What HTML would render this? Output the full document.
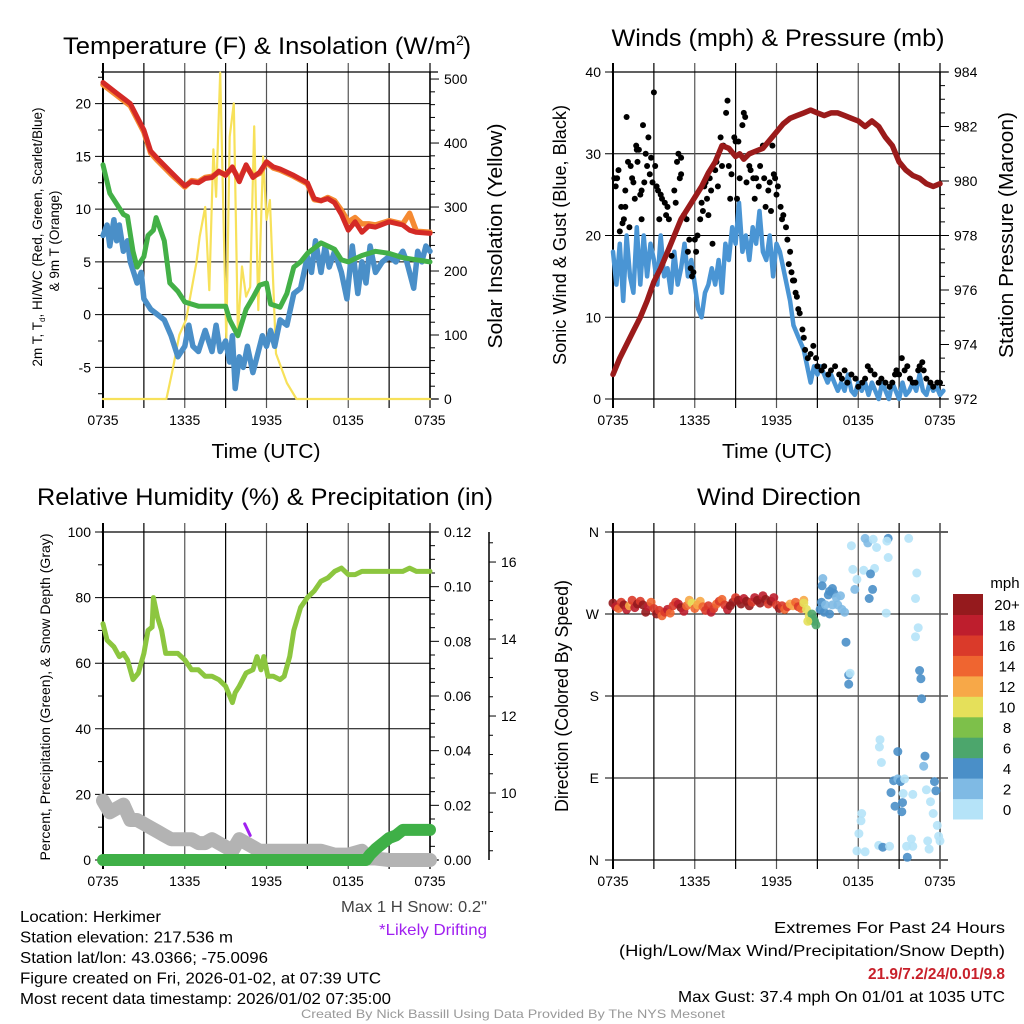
<!DOCTYPE html>
<html><head><meta charset="utf-8"><style>
html,body{margin:0;padding:0;background:#fff;}
svg{display:block;font-family:"Liberation Sans",Arial,sans-serif;}
</style></head><body>
<svg id="chart" width="1024" height="1024" viewBox="0 0 1024 1024"></svg>
<script>
// ---------- DATA ----------
const tempT = [0,1,2,3,3.5,4,5,6,6.5,7,7.5,8,8.5,9,9.5,10,10.5,11,11.5,12,12.5,13,14,15,15.5,16,16.5,17,17.5,18,18.5,19,19.5,20,21,22,22.5,23,24];
const tempRed = [22,21,20,17.5,15.5,14.8,13.5,12.2,12.6,12.5,12.9,13,13.6,13.2,14,12.6,14.2,13,13.5,14.5,14,13.8,13.2,12.5,11,10.8,11,10.6,9.5,8,8.8,7.8,8.4,8.3,8.8,8.5,8,7.8,7.7];
const tempOrange = [21.8,20.8,19.8,17.3,15.3,14.6,13.3,12.1,12.7,12.6,13,13.1,13.5,13.3,13.9,12.8,14.1,13.1,13.4,14.4,13.9,13.7,13.1,12.4,10.9,10.8,11.1,10.8,9.9,8.8,9.2,8.6,8.6,8.5,8.9,8.6,9.6,7.9,7.8];
const dewT = [0,0.5,1,1.5,1.8,2.2,2.5,3,3.3,3.7,3.9,4.5,4.9,5.5,6,7,8,9,9.3,9.9,10.5,11,11.5,12,12.3,13,13.5,14,14.5,15,16,16.5,17,17.5,18,19,20,21,22,23,24];
const dewV = [14.2,11.5,10.5,9.5,9.3,6,4.5,5.5,7.5,8,9.2,7,3,2.2,1.2,0.8,0.8,0.8,-0.5,-2,0.5,1.6,2.8,3,1,0.7,2,4.5,5,5.8,6.8,6.5,6.2,5.2,5,5.6,6,5.8,5.4,5.2,5];
const wcT = [0,0.3,0.5,0.8,1,1.2,1.5,1.8,2,2.5,2.8,3,3.5,4,4.5,5,5.5,6,6.3,6.6,7,7.5,8,8.3,8.6,9,9.3,9.5,9.7,10,10.3,10.6,11,11.3,11.7,12,12.3,12.6,13,13.5,14,14.5,15,15.3,15.6,16,16.3,16.6,17,17.5,17.9,18.3,18.7,19,19.3,19.6,20,20.5,21,21.5,22,22.3,22.8,23.1,23.4,23.7,24];
const wcV = [7.5,8.5,6.5,9,7,8.5,6,7,5,3,4,1.5,0.5,0,-0.5,-2,-4,-3,-1,-3,-3.5,-1.5,-3.5,-1,-3.5,-2.5,-4.5,-2,-7,-4,-5,-3,-5.5,-4,-2,-3,-1.5,-3,-0.5,-1,2,2.5,5.5,4,7,4,6.5,4.5,6,4,1.5,6.5,2,5,3,6.5,4,5,5.5,5,6,5,2.5,6,5,6.5,6];
const solT = [0,4.65,5.15,5.6,6.1,6.85,7.1,7.5,7.8,8.1,8.3,8.6,9.05,9.3,9.6,9.9,10.2,10.5,10.8,11.1,11.4,11.75,12,12.25,12.7,13.5,14.2,24];
const solV = [0,0,50,100,124,212,254,300,170,390,316,510,92,410,462,103,207,160,175,426,139,379,280,311,71,25,0,0];
const tempLeftTicks = [-5,0,5,10,15,20];
const solTicks = [0,100,200,300,400,500];
const timeLabels = ["0735","1335","1935","0135","0735"];

const windV = [18,14,19,12,20,15,13,21,14,20,15,19,17,14,20,15,16,13,18,14,16,19,15,17,14,
11,10,13,14,16,14,17,13,19,17,21,19,24,18,20,17,21,19,23,18,17,20,15,19,18,16,14,12,
9,8,7,6,4,2,4,3,4,3,2,3,2,1,2,1,3,1,0.5,2,1,2,0.5,2,1,0,2,1,0,2,1,0,2,0.5,1,2,1,3,1,0.5,2,1,1.5,0.5,1];
const gustT = [0.1,0.3,0.2,0.4,0.5,0.6,0.7,0.8,0.9,0.9,1,1.1,1.2,1.3,1.4,1.5,1.6,1.7,1.75,1.8,1.9,2,2.1,2.1,2.2,2.3,2.4,2.5,2.6,2.7,2.8,2.9,3,3.1,3.2,3.3,3.4,3.5,3.6,3.8,3.9,4,4.1,4.3,4.5,4.6,4.7,4.8,4.9,5,5,5.2,5.4,5.5,5.6,5.7,5.8,5.9,6,6.1,6.2,6.4,6.5,6.6,6.7,6.8,6.9,7,7.1,7.2,7.3,7.5,7.6,7.7,7.9,8,8.1,8.3,8.4,8.5,8.6,8.7,8.9,9,9.1,9.2,9.3,9.5,9.6,9.7,9.8,10,10.1,10.3,10.4,10.5,10.7,10.8,11,11.1,11.2,11.4,11.5,11.6,11.7,11.8,11.9,12,12.1,12.3,12.4,12.5,12.7,12.8,12.9,13,13.1,13.2,13.3,13.4,13.5,13.6,13.7,13.9,14,14.1,14.3,14.5,14.7,14.9,15,15.3,15.5,15.8,16,16.3,16.6,16.8,17,17.2,17.5,17.8,18,18.3,18.5,18.7,18.9,19.2,19.5,19.7,20,20.3,20.5,20.7,20.8,21,21.2,21.4,21.6,21.8,22,22.2,22.4,22.5,22.7,22.8,23,23.3,23.5,23.8,24];
const gustV = [27,27,26,28,20.5,23.5,21.5,22,25.5,23.5,34.5,29,21,28.5,27,26.5,24.5,31,30.5,29,30.5,25,25.5,22,33.5,26.5,30,28.5,32,27.5,29.5,26.5,37.5,28.5,26,25.5,22,25,24.5,24,22.5,23.5,22,17.5,25.5,24,29,30,27,27.5,29.5,22.5,22,18,19.5,16,15,15.5,19.5,18,20,22,24,23,26,26.5,24.5,22.5,27,25.5,19,28,29,26,32,28.5,31,35,36.5,28.5,24.5,27.5,32,31.5,24.5,31.5,27,33.5,35,34.5,26.5,28.5,28,27,24.5,27,26,28.5,31,27,23.5,25.5,26.5,23,31,27.5,27,25,26,23.5,22,22.5,21,19.5,16.5,18,15.5,14.5,14.5,13,12.5,11,10.5,8.5,7.5,6,5,5.5,6.5,5,4,3.5,4,3,3.5,4,3,2.5,3.5,2,3,2.5,1.5,2,2.5,4,3.5,3,2,2.5,2,1.5,2,3,3.5,3,5,3.5,4,2.5,2,2,3.5,4,4.5,3.5,2.5,2,1.5,2,2];
const presT = [0,0.5,1,1.5,2,2.5,3,3.5,4,4.5,5,5.5,6,6.5,7,7.5,8,8.5,9,9.3,9.6,10,10.5,11,11.5,12,12.5,13,13.5,14,14.5,15,15.5,16,16.5,17,17.5,18,18.5,19,19.5,20,20.5,21,21.5,22,22.5,23,23.5,24];
const presV = [972.9,973.5,974,974.5,975,975.6,976.3,976.8,977.4,978,978.6,979,979.4,979.8,980.3,980.7,981.3,981.2,980.9,981,980.8,981,981.1,981.2,981.5,981.8,982.1,982.3,982.4,982.5,982.6,982.5,982.4,982.5,982.5,982.4,982.3,982.2,982,982.2,982,981.6,981.3,980.7,980.4,980.2,980.1,979.9,979.8,979.9];
const windTicks = [0,10,20,30,40];
const presTicks = [972,974,976,978,980,982,984];

const rhT = [0,0.3,0.8,1.2,1.5,1.8,2.2,2.6,3,3.3,3.6,3.7,4,4.3,4.6,5,5.5,6,6.5,7,7.5,8,8.5,9,9.5,9.7,10,10.5,11,11.3,11.6,11.8,12.1,12.5,13,13.3,13.7,14,14.5,15,15.5,16,16.5,17,17.5,18,18.5,19,20,21,22,22.5,23,24];
const rhV = [72,67,65,62,63,61,55,57,63,70,71,80,74,70,63,63,63,61,58,58,56,56,55,53,48,51,53,57,58,62,58,62,56,56,55,56,62,70,77,80,82,85,86,88,89,87,87,88,88,88,88,89,88,88];
const snowT = [0,0.5,1,1.5,2,2.5,3,3.5,4,4.5,5,5.5,6,6.5,7,7.5,8,8.5,9,9.5,10,10.5,11,11.5,12,13,14,15,16,17,18,19,19.5,20,21,22,24];
const snowV = [9.8,9.5,9.6,9.7,9.3,9.3,9.2,9.1,9.0,8.9,8.8,8.8,8.8,8.8,8.7,8.7,8.8,8.7,8.6,8.5,8.8,8.7,8.6,8.5,8.5,8.5,8.5,8.5,8.5,8.4,8.4,8.5,8.3,8.3,8.26,8.26,8.26];
const driftT = [10.4,10.8];
const driftV = [9.2,8.9];
const precT = [0,19.3,19.6,20,20.5,21,21.5,22,24];
const precV = [0,0,0.002,0.004,0.006,0.008,0.009,0.011,0.011];
const rhTicks = [0,20,40,60,80,100];
const precTicks = [0,0.02,0.04,0.06,0.08,0.10,0.12];
const precLabels = ["0.00","0.02","0.04","0.06","0.08","0.10","0.12"];
const snowTicks = [10,12,14,16];

const wdMainD = [282,278,276,283,280,275,279,285,277,281,284,280,272,278,283,276,270,274,268,272,275,271,279,283,281,277,273,279,285,282,276,280,284,278,274,279,272,276,281,284,286,280,275,279,283,288,285,281,287,284,279,283,288,285,282,290,286,281,284,288,280,276,279,275,278,281,279,283,278,276,285];
const wdMainS = [20,18,14,16,20,18,12,16,18,20,16,20,22,18,14,16,20,16,14,16,18,14,16,16,18,20,18,14,12,10,14,12,12,14,16,16,18,16,14,16,14,16,18,20,22,16,20,22,18,20,22,16,18,20,22,18,20,16,20,18,16,20,16,14,16,12,12,14,16,14,12];
const wdT = [14,14.2,14.4,14.5,14.6,14.8,14.9,14.7,14.3,15.2,15.3,15.5,15.6,15.8,15.9,16.1,16.2,16.4,16.5,16.7,16.8,17,15.9,16.1,15.4,15.35,17.5,18.5,18.7,19.1,19.35,20.2,20.1,21.7,17.6,18.4,19.2,18.9,20.2,22.3,17.9,17.75,19.05,18.8,22.2,20.05,17.1,17.3,17.4,17.3,22.2,22.4,22.5,22.6,22.65,19.6,19.55,19.7,20.9,22.9,22.8,20.6,20.9,21.1,21.4,23.6,23.7,23,20.4,21.3,22,23.3,20.7,21.25,21.2,18.25,18.2,23.5,23.8,18.05,23.9,24,17.9,18.5,19.5,19.8,20.3,21.55,21.9,22,21.6,23.1,23.2];
const wdD = [282,275,268,263,270,262,258,265,262,275,283,272,280,291,295,298,293,288,280,290,275,272,270,280,309,301,345,353,348,352,343,353,350,353,319,318,320,314,332,315,308,297,297,287,287,271,239,203,205,193,245,255,208,199,177,132,124,107,119,114,103,87,89,86,89,86,76,77,74,73,72,64,59,63,53,51,43,51,38,29,26,21,10,9,16,14,15,15,23,15,3,21,12];
const wdS = [10,10,10,8,6,6,6,6,10,4,4,4,2,4,4,4,4,2,2,2,2,2,4,2,2,4,0,3,2,1,0,4,0,0,0,0,0,4,0,0,0,3,4,4,0,0,4,4,0,4,0,0,4,4,4,0,0,0,4,4,2,4,2,4,0,4,4,0,4,0,0,0,4,4,4,0,0,0,0,0,0,0,0,0,0,4,0,0,0,0,4,0,0];
const dirLabels = ["N","E","S","W","N"];
const dirTicks = [0,90,180,270,360];
const cbLabels = ["0","2","4","6","8","10","12","14","16","18","20+"];
const cbColors = ["#b5e3f8","#7fbae4","#4a8fc8","#4ca66c","#7dc04a","#e5e05a","#f7a848","#ef6530","#da3a2a","#be1e2d","#951a1d"];

// ---------- HELPERS ----------
const NS = "http://www.w3.org/2000/svg";
const svg = document.getElementById("chart");
function mk(tag, attrs, parent, name, inter) {
  const e = document.createElementNS(NS, tag);
  for (const k in attrs) e.setAttribute(k, attrs[k]);
  
  
  (parent || svg).appendChild(e);
  return e;
}
function txt(s, x, y, size, anchor, parent, name, extra) {
  const a = Object.assign({x: x, y: y, 'font-size': size, 'text-anchor': anchor || 'middle', fill: '#000'}, extra || {});
  const e = mk('text', a, parent, name, false);
  e.textContent = s;
  return e;
}
function fitTxt(s, x, y, size, anchor, len, parent, name, extra) {
  const a = Object.assign({textLength: len, lengthAdjust: 'spacingAndGlyphs'}, extra || {});
  return txt(s, x, y, size, anchor, parent, name, a);
}
function lin(x1, y1, x2, y2, stroke, w, parent, name) {
  return mk('line', {x1: x1, y1: y1, x2: x2, y2: y2, stroke: stroke, 'stroke-width': w}, parent, name, false);
}
function path(xs, ys, fx, fy, stroke, w, parent, name, cap) {
  let d = '';
  for (let i = 0; i < xs.length; i++) d += (i ? 'L' : 'M') + fx(xs[i]).toFixed(1) + ' ' + fy(ys[i]).toFixed(1);
  return mk('path', {d: d, fill: 'none', stroke: stroke, 'stroke-width': w, 'stroke-linejoin': 'round', 'stroke-linecap': cap || 'round'}, parent, name, false);
}
function scale(d0, d1, r0, r1) { return v => r0 + (v - d0) * (r1 - r0) / (d1 - d0); }

function frame(g, L, R, T, B, prefix) {
  for (let i = 0; i <= 8; i++) {
    const x = L + i * (R - L) / 8;
    lin(x, T - 9, x, B + 9, i % 2 === 0 && i > 0 && i < 8 ? '#555' : '#000', i === 0 ? 2 : 1.2, g, prefix + '-x-grid');
  }
  lin(L - 2, T, R + 8, T, '#000', 1.2, g, prefix + '-top-border');
  lin(L, B, R + 8, B, '#000', 1.2, g, prefix + '-bottom-border');
  const tl = [0, 2, 4, 6, 8];
  for (let i = 0; i < 5; i++) txt(timeLabels[i], L + tl[i] * (R - L) / 8, B + 26, 14, 'middle', g, prefix + '-x-tick-label');
}

// ---------- PANEL 1: Temperature ----------
(function () {
  const g = mk('g', {}, svg, 'temperature-panel', false);
  const L = 103, R = 430, T = 72, B = 399;
  const tx = scale(0, 24, L, R), ty = scale(-8, 23, B, T), sy = scale(0, 511, B, T);
  for (const v of tempLeftTicks) { lin(L - 8, ty(v), R, ty(v), '#000', 1, g, 'temp-y-grid'); txt(String(v), L - 12, ty(v) + 5, 14, 'end', g, 'temp-y-tick-label'); }
  for (let v = -7.5; v <= 22.5; v += 5) lin(L - 5, ty(v), L, ty(v), '#000', 1, g, 'temp-y-minor-tick');
  for (const v of solTicks) { lin(R, sy(v), R + 9, sy(v), '#000', 1, g, 'solar-y-tick'); txt(String(v), R + 14, sy(v) + 5, 14, 'start', g, 'solar-y-tick-label'); }
  for (let v = 20; v < 511; v += 20) if (v % 100) lin(R, sy(v), R + 5, sy(v), '#000', 1, g, 'solar-y-minor-tick');
  frame(g, L, R, T, B, 'temp');
  lin(R, T, R, B, '#000', 1.5, g, 'temp-right-axis');
  path(solT, solV, tx, sy, '#f7e15a', 2.2, g, 'solar-insolation-line');
  path(wcT, wcV, tx, ty, '#4a8fc8', 5.5, g, 'wind-chill-line');
  path(dewT, dewV, tx, ty, '#43b047', 5, g, 'dewpoint-line');
  path(tempT, tempOrange, tx, ty, '#f58a32', 5.5, g, 'temp-9m-line');
  path(tempT, tempRed, tx, ty, '#d42a26', 5, g, 'temp-2m-line');
  const t = mk('text', {x: 63, y: 54, 'font-size': 24, 'text-anchor': 'start', textLength: 393, lengthAdjust: 'spacingAndGlyphs'}, g, 'temp-panel-title', false);
  t.textContent = 'Temperature (F) & Insolation (W/m';
  const t2 = mk('text', {x: 456, y: 45, 'font-size': 14}, g, 'temp-title-superscript', false);
  t2.textContent = '2';
  const t3 = mk('text', {x: 463, y: 54, 'font-size': 24}, g, 'temp-title-paren', false);
  t3.textContent = ')';
  fitTxt('Time (UTC)', 266, 458, 20, 'middle', 109, g, 'temp-x-axis-title');
  const yt = mk('text', {x: 0, y: 0, 'font-size': 13.5, 'text-anchor': 'middle', transform: 'translate(42,237) rotate(-90)'}, g, 'temp-y-axis-title', false);
  yt.innerHTML = '2m T, T<tspan font-size="8" dy="3">d</tspan><tspan dy="-3">, HI/WC (Red, Green, Scarlet/Blue)</tspan>';
  txt('& 9m T (Orange)', 0, 0, 13.5, 'middle', g, 'temp-y-axis-title-line2', {transform: 'translate(59,241) rotate(-90)'});
  fitTxt('Solar Insolation (Yellow)', 0, 0, 20, 'middle', 225, g, 'solar-y-axis-title', {transform: 'translate(502,236) rotate(-90)'});
})();

// ---------- PANEL 2: Winds ----------
(function () {
  const g = mk('g', {}, svg, 'winds-panel', false);
  const L = 613, R = 940, T = 72, B = 399;
  const tx = scale(0, 24, L, R), wy = scale(0, 40, B, T), py = scale(972, 984, B, T);
  for (const v of windTicks) { lin(L - 8, wy(v), R, wy(v), '#000', 1, g, 'wind-y-grid'); txt(String(v), L - 12, wy(v) + 5, 14, 'end', g, 'wind-y-tick-label'); }
  for (const v of presTicks) { lin(R, py(v), R + 9, py(v), '#000', 1, g, 'pressure-y-tick'); txt(String(v), R + 14, py(v) + 5, 14, 'start', g, 'pressure-y-tick-label'); }
  for (let v = 972.5; v < 984; v += 0.5) if (v % 2) lin(R, py(v), R + 5, py(v), '#000', 1, g, 'pressure-y-minor-tick');
  frame(g, L, R, T, B, 'wind');
  lin(R, T, R, B, '#000', 1.5, g, 'wind-right-axis');
  const wt = windV.map((v, i) => i * 0.25);
  path(wt, windV, tx, wy, '#4a95d4', 4.5, g, 'sustained-wind-line');
  for (let i = 0; i < gustT.length; i++) {
    mk('circle', {cx: tx(gustT[i]).toFixed(1), cy: wy(gustV[i]).toFixed(1), r: 3, fill: '#000'}, g, 'gust-point', false);
  }
  path(presT, presV, tx, py, '#9b1b1b', 5.5, g, 'station-pressure-line');
  fitTxt('Winds (mph) & Pressure (mb)', 778, 46, 24, 'middle', 333, g, 'winds-panel-title');
  fitTxt('Time (UTC)', 777, 458, 20, 'middle', 110, g, 'wind-x-axis-title');
  fitTxt('Sonic Wind & Gust (Blue, Black)', 0, 0, 18, 'middle', 260, g, 'wind-y-axis-title', {transform: 'translate(566,235) rotate(-90)'});
  fitTxt('Station Pressure (Maroon)', 0, 0, 20, 'middle', 246, g, 'pressure-y-axis-title', {transform: 'translate(1013,235) rotate(-90)'});
})();

// ---------- PANEL 3: RH ----------
(function () {
  const g = mk('g', {}, svg, 'humidity-panel', false);
  const L = 103, R = 430, T = 532, B = 860;
  const tx = scale(0, 24, L, R), ry = scale(0, 100, B, T), py = scale(0, 0.12, B, T), sy = scale(8.26, 16.78, B, T);
  for (const v of rhTicks) { lin(L - 8, ry(v), R, ry(v), '#000', 1, g, 'rh-y-grid'); txt(String(v), L - 12, ry(v) + 5, 14, 'end', g, 'rh-y-tick-label'); }
  for (let v = 10; v < 100; v += 20) lin(L - 5, ry(v), L, ry(v), '#000', 1, g, 'rh-y-minor-tick');
  precTicks.forEach((v, i) => { lin(R, py(v), R + 9, py(v), '#000', 1, g, 'precip-y-tick'); txt(precLabels[i], R + 14, py(v) + 5, 14, 'start', g, 'precip-y-tick-label'); });
  for (let v = 0.005; v < 0.12; v += 0.005) if (Math.abs(v / 0.02 - Math.round(v / 0.02)) > 0.01) lin(R, py(v), R + 5, py(v), '#000', 1, g, 'precip-y-minor-tick');
  lin(489, T, 489, B, '#000', 1.5, g, 'snow-depth-axis');
  for (const v of snowTicks) { lin(489, sy(v), 496, sy(v), '#000', 1, g, 'snow-y-tick'); txt(String(v), 501, sy(v) + 5, 14, 'start', g, 'snow-y-tick-label'); }
  for (let v = 8.5; v < 16.8; v += 0.5) if (v % 2) lin(489, sy(v), 493, sy(v), '#000', 1, g, 'snow-y-minor-tick');
  frame(g, L, R, T, B, 'rh');
  lin(R, T, R, B, '#000', 1.5, g, 'rh-right-axis');
  path(snowT, snowV, tx, sy, '#b3b3b3', 14, g, 'snow-depth-line');
  path(driftT, driftV, tx, sy, '#a020f0', 3, g, 'drifting-snow-marker');
  path(precT, precV, tx, py, '#3fb047', 12, g, 'precipitation-line');
  path(rhT, rhV, tx, ry, '#8cc63f', 5, g, 'relative-humidity-line');
  fitTxt('Relative Humidity (%) & Precipitation (in)', 265, 505, 24, 'middle', 456, g, 'rh-panel-title');
  fitTxt('Percent, Precipitation (Green), & Snow Depth (Gray)', 0, 0, 14, 'middle', 327, g, 'rh-y-axis-title', {transform: 'translate(50,697) rotate(-90)'});
})();

// ---------- PANEL 4: Wind direction ----------
(function () {
  const g = mk('g', {}, svg, 'wind-direction-panel', false);
  const L = 613, R = 940, T = 532, B = 860;
  const tx = scale(0, 24, L, R), dy = scale(0, 360, B, T);
  dirTicks.forEach((v, i) => { lin(L - 8, dy(v), R + 8, dy(v), '#000', 1, g, 'direction-y-grid'); txt(dirLabels[i], L - 14, dy(v) + 5, 14, 'end', g, 'direction-y-tick-label'); });
  frame(g, L, R, T, B, 'dir');
  lin(R, T - 9, R, B + 9, '#555', 1.5, g, 'dir-right-border');
  function col(s) { return cbColors[Math.min(10, Math.floor(s / 2))]; }
  wdMainD.forEach((d, i) => {
    mk('circle', {cx: tx(i * 0.2).toFixed(1), cy: dy(d).toFixed(1), r: 4.5, fill: col(wdMainS[i]), 'fill-opacity': 0.9}, g, 'direction-point', false);
  });
  for (let i = 0; i < wdT.length; i++) {
    mk('circle', {cx: tx(wdT[i]).toFixed(1), cy: dy(wdD[i]).toFixed(1), r: 4.5, fill: col(wdS[i]), 'fill-opacity': 0.9}, g, 'direction-point', false);
  }
  fitTxt('Wind Direction', 779, 505, 24, 'middle', 164, g, 'wind-direction-title');
  fitTxt('Direction (Colored By Speed)', 0, 0, 18, 'middle', 232, g, 'direction-y-axis-title', {transform: 'translate(568,696) rotate(-90)'});
  const cb = mk('g', {}, g, 'speed-colorbar', false);
  const h = (819 - 594) / 11;
  for (let i = 0; i < 11; i++) {
    const y = 819 - (i + 1) * h;
    mk('rect', {x: 953, y: y.toFixed(1), width: 30, height: (h + 0.5).toFixed(1), fill: cbColors[i]}, cb, 'colorbar-swatch', false);
    txt(cbLabels[i], 1007, y + h / 2 + 6, 15, 'middle', cb, 'colorbar-label');
  }
  txt('mph', 1005, 588, 15, 'middle', cb, 'colorbar-title');
})();

// ---------- FOOTER TEXT ----------
(function () {
  const g = mk('g', {}, svg, 'footer-info', false);
  const lines = ['Location: Herkimer', 'Station elevation: 217.536 m', 'Station lat/lon: 43.0366; -75.0096', 'Figure created on Fri, 2026-01-02, at 07:39 UTC', 'Most recent data timestamp: 2026/01/02 07:35:00'];
  const lens = [141, 213, 248, 361, 371];
  lines.forEach((s, i) => fitTxt(s, 20, 922 + i * 20.5, 16, 'start', lens[i], g, 'station-info-line'));
  fitTxt('Max 1 H Snow: 0.2"', 487, 912, 16, 'end', 146, g, 'max-snow-note', {fill: '#444'});
  fitTxt('*Likely Drifting', 487, 935, 16, 'end', 108, g, 'drifting-note', {fill: '#a020f0'});
  fitTxt('Extremes For Past 24 Hours', 1005, 933, 16, 'end', 231, g, 'extremes-title');
  fitTxt('(High/Low/Max Wind/Precipitation/Snow Depth)', 1005, 956, 16, 'end', 386, g, 'extremes-subtitle');
  fitTxt('21.9/7.2/24/0.01/9.8', 1005, 979, 16, 'end', 137, g, 'extremes-values', {fill: '#c8202a', 'font-weight': 'bold'});
  fitTxt('Max Gust: 37.4 mph On 01/01 at 1035 UTC', 1005, 1002, 16, 'end', 327, g, 'max-gust-note');
  fitTxt('Created By Nick Bassill Using Data Provided By The NYS Mesonet', 513, 1018, 12, 'middle', 424, g, 'credit-line', {fill: '#999'});
})();
</script>
</body></html>
